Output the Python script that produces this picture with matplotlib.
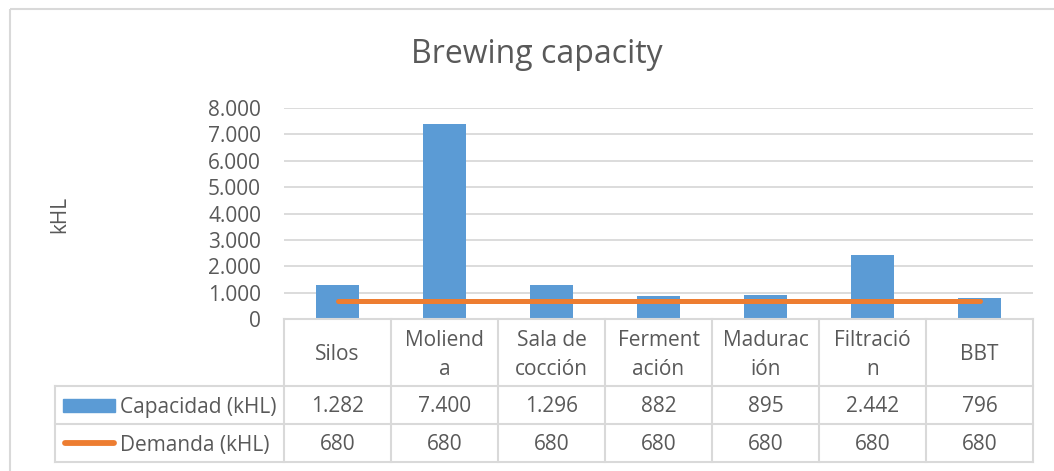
import matplotlib
matplotlib.use("Agg")
import matplotlib.pyplot as plt
from matplotlib.lines import Line2D
from matplotlib.patches import Rectangle

# ---- data ----
categories = ["Silos", "Molienda", "Sala de cocción", "Fermentación", "Maduración", "Filtración", "BBT"]
cat_labels = ["Silos", "Moliend\na", "Sala de\ncocción", "Ferment\nación", "Madurac\nión", "Filtració\nn", "BBT"]
capacidad = [1282, 7400, 1296, 882, 895, 2442, 796]
demanda = [680, 680, 680, 680, 680, 680, 680]
series_names = ["Capacidad (kHL)", "Demanda (kHL)"]
yticks = [0, 1000, 2000, 3000, 4000, 5000, 6000, 7000, 8000]
title = "Brewing capacity"
ylabel = "kHL"

BLUE = "#5B9BD5"
ORANGE = "#ED7D31"
TXT = "#595959"
GRID = "#D9D9D9"
FONT = ["Open Sans", "DejaVu Sans"]
plt.rcParams["font.family"] = FONT
FS = 15
CAP = 15  # approx cap height in px at FS


def fmt(v):
    return f"{v:,}".replace(",", ".")


W, H = 1054, 471
fig = plt.figure(figsize=(W / 100, H / 100), dpi=100)


def fx(px):
    return px / W


def fy(py):
    return 1 - py / H


x0_px, col_w = 284, 107
ncol = len(categories)
x1_px = x0_px + col_w * ncol
top_px, base_px = 108, 319

ax = fig.add_axes([fx(x0_px), fy(base_px), fx(x1_px) - fx(x0_px), fy(top_px) - fy(base_px)])
xs = list(range(ncol))
ax.bar(xs, capacidad, width=0.4, color=BLUE, zorder=2)
ax.plot(xs, demanda, color=ORANGE, lw=3.6, solid_capstyle="round", zorder=3)
ax.set_xlim(-0.5, ncol - 0.5)
ax.set_ylim(0, 8000)
ax.set_yticks(yticks)
ax.set_yticklabels([fmt(v) for v in yticks], fontsize=FS, color=TXT)
ax.tick_params(axis="y", which="major", length=0, pad=16.5)
ax.set_xticks([])
ax.yaxis.grid(True, color=GRID, lw=1.3, zorder=0)
for s in ["top", "right", "left"]:
    ax.spines[s].set_visible(False)
ax.spines["bottom"].set_color(GRID)
ax.spines["bottom"].set_linewidth(1.5)

# overlay in pixel coordinates for title, border and data table
ov = fig.add_axes([0, 0, 1, 1], zorder=-1)
ov.set_xlim(0, W)
ov.set_ylim(H, 0)
ov.axis("off")
ov2 = fig.add_axes([0, 0, 1, 1], zorder=5)
ov2.set_xlim(0, W)
ov2.set_ylim(H, 0)
ov2.axis("off")
ov2.patch.set_alpha(0)

ov.add_patch(Rectangle((10, 9), 1100, 500, fill=False, ec=GRID, lw=1.5))
ov2.text(537, 63, title, ha="center", va="baseline", fontsize=23, color=TXT)
ov2.text(60, 214, ylabel, ha="center", va="center", rotation=90, fontsize=FS, color=TXT)

# table
r0, r1, r2, r3 = base_px, 386, 424, 462
leg_x = 55
lc = GRID
lw = 1.5
for i in range(ncol + 1):
    x = x0_px + i * col_w
    ov2.add_line(Line2D([x, x], [r0, r3], color=lc, lw=lw))
ov2.add_line(Line2D([leg_x, leg_x], [r1, r3], color=lc, lw=lw))
for y in (r1, r2, r3):
    ov2.add_line(Line2D([leg_x, x1_px], [y, y], color=lc, lw=lw))

LSP = 29
for i, lab in enumerate(cat_labels):
    cx = x0_px + (i + 0.5) * col_w
    lines = lab.split("\n")
    n = len(lines)
    hc = (r0 + r1) / 2 + 0.5
    for k, t in enumerate(lines):
        cy = hc + (k - (n - 1) / 2) * LSP
        ov2.text(cx, cy + CAP / 2, t, ha="center", va="baseline", fontsize=FS, color=TXT)
    ov2.text(cx, (r1 + r2) / 2 + CAP / 2, fmt(capacidad[i]), ha="center",
             va="baseline", fontsize=FS, color=TXT)
    ov2.text(cx, (r2 + r3) / 2 + CAP / 2, fmt(demanda[i]), ha="center",
             va="baseline", fontsize=FS, color=TXT)

ov2.add_patch(Rectangle((63, 399), 52, 13, color=BLUE))
ov2.text(120, (r1 + r2) / 2 + CAP / 2, series_names[0], ha="left", va="baseline",
         fontsize=FS, color=TXT)
ov2.add_line(Line2D([65, 114], [443, 443], color=ORANGE, lw=4.2, solid_capstyle="round"))
ov2.text(120, (r2 + r3) / 2 + CAP / 2, series_names[1], ha="left", va="baseline",
         fontsize=FS, color=TXT)

fig.savefig("out.png", dpi=100, facecolor="white")
